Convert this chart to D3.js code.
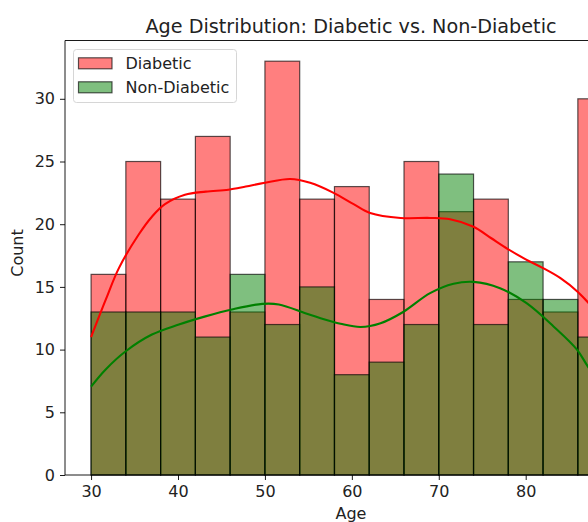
<!DOCTYPE html>
<html>
<head>
<meta charset="utf-8">
<script src="https://cdn.jsdelivr.net/npm/d3@7"></script>
<style>
  html, body { margin: 0; padding: 0; background: #fff; overflow: hidden; }
  svg { display: block; font-family: "DejaVu Sans", sans-serif; }
</style>
</head>
<body>
<svg id="chart" width="588" height="522"></svg>
<script>
// ---- data ----
const binEdges = [30, 34, 38, 42, 46, 50, 54, 58, 62, 66, 70, 74, 78, 82, 86, 90];
const diabeticCounts    = [16, 25, 22, 27, 13, 33, 22, 23, 14, 25, 21, 22, 14, 13, 30];
const nonDiabeticCounts = [13, 13, 13, 11, 16, 12, 15, 8, 9, 12, 24, 12, 17, 14, 11];

const diabeticKdeAge = [30, 31.7, 33.2, 35.5, 37, 38.5, 40.8, 43.2, 45.8, 47.8, 50, 52.9, 55.2, 57.9, 60.2, 62.1, 65.6, 69, 71.3, 74, 76, 78, 80, 82, 84, 86, 88, 90];
const diabeticKdeVal = [11.0, 14.0, 16.5, 19.2, 20.6, 21.6, 22.35, 22.6, 22.75, 23.0, 23.3, 23.6, 23.3, 22.5, 21.6, 20.9, 20.5, 20.5, 20.4, 19.8, 18.9, 18.0, 17.2, 16.5, 15.7, 14.6, 13.1, 11.3];
const nonDiabeticKdeAge = [30, 31.65, 33.95, 37, 40.1, 43.15, 46.2, 49.7, 51.6, 54.65, 56.4, 58.7, 61, 63.3, 65.9, 69, 71.7, 74, 77.05, 80.1, 83.2, 85.9, 87.2, 90];
const nonDiabeticKdeVal = [7.05, 8.4, 9.85, 11.2, 12.0, 12.65, 13.2, 13.65, 13.6, 12.9, 12.5, 12.06, 11.8, 12.1, 13.0, 14.5, 15.25, 15.4, 14.9, 13.7, 11.85, 10.0, 8.6, 6.0];

const xTicks = [30, 40, 50, 60, 70, 80];
const yTicks = [0, 5, 10, 15, 20, 25, 30];
const seriesNames = ["Diabetic", "Non-Diabetic"];
const seriesColors = ["#ff0000", "#008000"];

// ---- layout ----
const mLeft = 65, mTop = 40.5, mBottom = 475, mRight = 638.7;
const svg = d3.select("#chart");
const fontSize = 16;

const x = d3.scaleLinear().domain([27, 93]).range([mLeft, mRight]);
const yMax = d3.max(diabeticCounts.concat(nonDiabeticCounts)) * 1.05;
const y = d3.scaleLinear().domain([0, yMax]).range([mBottom, mTop]);

const plot = svg.append("g");

function drawBars(counts, color) {
  plot.append("g").selectAll("rect")
    .data(counts)
    .join("rect")
    .attr("x", (d, i) => x(binEdges[i]))
    .attr("width", (d, i) => x(binEdges[i + 1]) - x(binEdges[i]))
    .attr("y", d => y(d))
    .attr("height", d => y(0) - y(d))
    .attr("fill", color)
    .attr("fill-opacity", 0.5)
    .attr("stroke", "#000")
    .attr("stroke-opacity", 0.65)
    .attr("stroke-width", 1.2);
}
drawBars(diabeticCounts, seriesColors[0]);
drawBars(nonDiabeticCounts, seriesColors[1]);

const line = d3.line()
  .x(d => x(d[0]))
  .y(d => y(d[1]))
  .curve(d3.curveCatmullRom.alpha(0.5));

plot.append("path")
  .datum(diabeticKdeAge.map((a, i) => [a, diabeticKdeVal[i]]))
  .attr("d", line)
  .attr("fill", "none")
  .attr("stroke", seriesColors[0])
  .attr("stroke-width", 2.1);
plot.append("path")
  .datum(nonDiabeticKdeAge.map((a, i) => [a, nonDiabeticKdeVal[i]]))
  .attr("d", line)
  .attr("fill", "none")
  .attr("stroke", seriesColors[1])
  .attr("stroke-width", 2.1);

// ---- axes ----
const xAxis = d3.axisBottom(x).tickValues(xTicks).tickSize(5).tickPadding(5.5).tickFormat(d3.format("d"));
const gx = svg.append("g").attr("transform", `translate(0,${mBottom})`).call(xAxis);
const yAxis = d3.axisLeft(y).tickValues(yTicks).tickSize(5).tickPadding(5).tickFormat(d3.format("d"));
const gy = svg.append("g").attr("transform", `translate(${mLeft},0)`).call(yAxis);
[gx, gy].forEach(g => {
  g.select(".domain").remove();
  g.selectAll(".tick line").attr("stroke", "#000").attr("stroke-width", 0.9);
  g.selectAll(".tick text").attr("fill", "#222").attr("font-size", fontSize)
    .attr("font-family", "DejaVu Sans");
});
gx.selectAll(".tick text").attr("dy", "0.72em");

// spines
svg.append("line").attr("x1", mLeft).attr("x2", mLeft).attr("y1", mTop).attr("y2", mBottom)
  .attr("stroke", "#000").attr("stroke-width", 0.9);
svg.append("line").attr("x1", mLeft).attr("x2", mRight).attr("y1", mBottom).attr("y2", mBottom)
  .attr("stroke", "#000").attr("stroke-width", 0.9);
svg.append("line").attr("x1", mLeft).attr("x2", mRight).attr("y1", mTop).attr("y2", mTop)
  .attr("stroke", "#000").attr("stroke-width", 0.9);

// labels
svg.append("text")
  .attr("x", 351).attr("y", 33)
  .attr("text-anchor", "middle").attr("font-size", 19.2).attr("fill", "#222")
  .text("Age Distribution: Diabetic vs. Non-Diabetic");
svg.append("text")
  .attr("x", 351).attr("y", 519)
  .attr("text-anchor", "middle").attr("font-size", fontSize).attr("fill", "#222")
  .text("Age");
svg.append("text")
  .attr("transform", `translate(23,253) rotate(-90)`)
  .attr("text-anchor", "middle").attr("font-size", fontSize).attr("fill", "#222")
  .text("Count");

// legend
const lg = svg.append("g");
lg.append("rect")
  .attr("x", 73.5).attr("y", 49.5).attr("width", 163).attr("height", 53)
  .attr("rx", 3).attr("fill", "#fff").attr("fill-opacity", 0.8)
  .attr("stroke", "#d6d6d6").attr("stroke-width", 1);
seriesNames.forEach((name, i) => {
  const cy = 63.3 + i * 24;
  lg.append("rect")
    .attr("x", 78.5).attr("y", cy - 5.5).attr("width", 33.5).attr("height", 11)
    .attr("fill", seriesColors[i]).attr("fill-opacity", 0.5)
    .attr("stroke", "#000").attr("stroke-opacity", 0.65).attr("stroke-width", 1.2);
  lg.append("text")
    .attr("x", 125.5).attr("y", cy).attr("dy", "0.36em")
    .attr("font-size", fontSize).attr("fill", "#222")
    .text(name);
});
</script>
</body>
</html>
